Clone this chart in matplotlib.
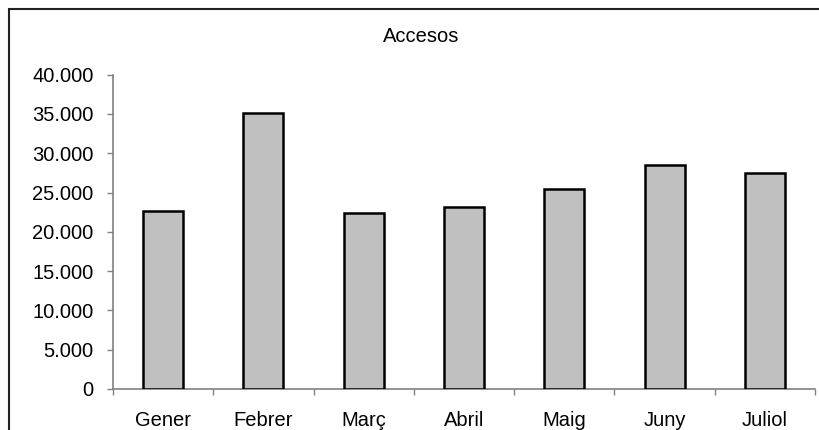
import numpy as np
import matplotlib
matplotlib.use('Agg')
import matplotlib.pyplot as plt
from matplotlib.ticker import FuncFormatter, FixedLocator
from matplotlib.patches import Rectangle

plt.rcParams['font.family'] = ['Liberation Sans', 'DejaVu Sans']

mesos = ['Gener', 'Febrer', 'Març', 'Abril', 'Maig', 'Juny', 'Juliol']
accessos = [22700, 35150, 22400, 23200, 25500, 28450, 27450]
yticks = [0, 5000, 10000, 15000, 20000, 25000, 30000, 35000, 40000]

fig = plt.figure(figsize=(8.2, 4.3), dpi=100)
ax = fig.add_axes([113 / 820, 1 - 389 / 430, (815 - 113) / 820, (389 - 74.7) / 430])

x = np.arange(len(mesos))
ax.bar(x, accessos, width=0.4, color='#c0c0c0', edgecolor='black', linewidth=1.8, zorder=3)

ax.set_xlim(-0.5, len(mesos) - 0.5)
ax.set_ylim(0, 40000)
ax.set_yticks(yticks)
ax.yaxis.set_major_formatter(FuncFormatter(lambda v, p: '{:,.0f}'.format(v).replace(',', '.')))

# ticks at the category borders, labels in the middle
ax.xaxis.set_major_locator(FixedLocator(np.arange(-0.5, len(mesos), 1.0)))
ax.xaxis.set_major_formatter(FuncFormatter(lambda v, p: ''))
ax.xaxis.set_minor_locator(FixedLocator(x))
ax.set_xticklabels(mesos, minor=True)
ax.tick_params(axis='x', which='minor', length=0, pad=16, labelsize=14.5)
ax.tick_params(axis='x', which='major', length=4.5, width=1, color='#808080')
ax.tick_params(axis='y', length=4.5, width=1, color='#808080', pad=9.5, labelsize=14.5)

for s in ['top', 'right']:
    ax.spines[s].set_visible(False)
for s in ['left', 'bottom']:
    ax.spines[s].set_color('#808080')
    ax.spines[s].set_linewidth(1.2)

fig.text(421 / 820, 1 - 41.7 / 430, 'Accesos', ha='center', va='baseline', fontsize=14.5)

# chart border
fig.patches.append(Rectangle((8.5 / 820, -0.1), 1.2, 1 - 9.3 / 430 + 0.1, transform=fig.transFigure,
                             fill=False, edgecolor='#222222', linewidth=1.5))

fig.savefig('out.png', dpi=100)
